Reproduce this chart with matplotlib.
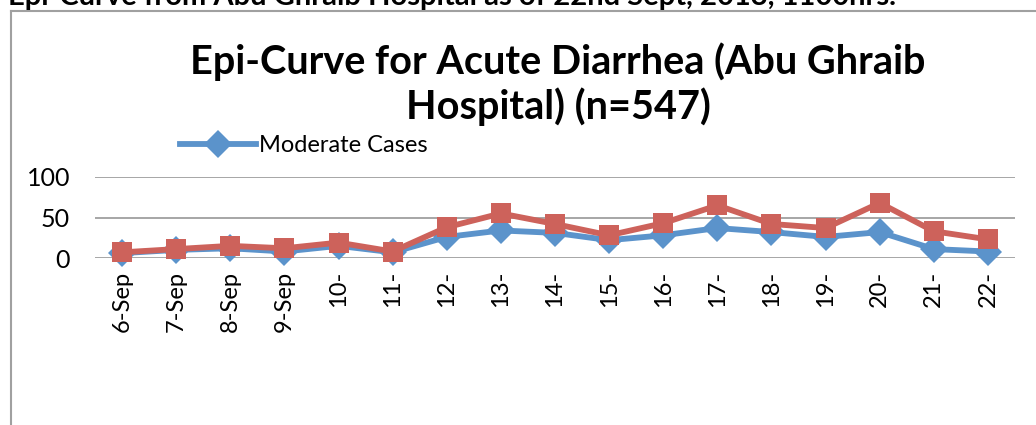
import numpy as np
from matplotlib import pyplot as plt
from matplotlib.lines import Line2D

plt.rcParams['font.family'] = ['Lato', 'DejaVu Sans']

# categories (x axis labels as shown, truncated in the original)
days = ["6-Sep", "7-Sep", "8-Sep", "9-Sep", "10-", "11-", "12-", "13-", "14-",
        "15-", "16-", "17-", "18-", "19-", "20-", "21-", "22-"]
# moderate cases (blue) and total cases (red)
moderate = [6, 10, 12, 8, 15, 7, 26, 34, 31, 22, 28, 37, 32, 26, 32, 11, 8]
total = [7, 11, 15, 12, 19, 8, 38, 55, 42, 28, 43, 65, 42, 37, 68, 33, 23]
yticks = [0, 50, 100]

fig = plt.figure(figsize=(10.36, 4.25), dpi=100)
W, H = 1036, 425

# plot area in pixels: left 95, right 1015, y=0 at 258, y=100 at 177
ax = fig.add_axes([95 / W, (H - 258) / H, 920 / W, 81 / H])
x = np.arange(len(days))

ax.plot(x, moderate, color="#5B93CB", lw=4.2, marker="D", ms=14,
        markeredgewidth=0, label="Moderate Cases", zorder=3)
ax.plot(x, total, color="#CD625B", lw=4.2, marker="s", ms=14.5,
        markeredgewidth=0, label="_nolegend_", zorder=4)

ax.set_xlim(-0.5, len(days) - 0.5)
ax.set_ylim(0, 100)
ax.set_yticks(yticks)
ax.set_xticks(x)
ax.set_xticklabels(days, rotation=90, fontsize=17)
ax.tick_params(axis="y", labelsize=18, length=0, pad=18)
ax.tick_params(axis="x", length=0, pad=9)
for s in ax.spines.values():
    s.set_visible(False)
ax.grid(axis="y", color="#A6A6A6", lw=1.4)
ax.set_axisbelow(True)
for ln in ax.lines:
    ln.set_clip_on(False)

leg = ax.legend(loc="lower left", bbox_to_anchor=(85 / 920, 1.26), frameon=False,
                fontsize=17, handlelength=3.2, handletextpad=0.15, borderpad=0,
                borderaxespad=0)

fig.text(558 / W, (H - 62) / H, "Epi-Curve for Acute Diarrhea (Abu Ghraib",
         ha="center", va="center", fontsize=28.5, fontweight="bold")
fig.text(558 / W, (H - 107) / H, "Hospital) (n=547)", ha="center", va="center",
         fontsize=28.5, fontweight="bold")

# caption above the chart frame, cut off by the top edge as in the original
fig.text(8 / W, 1.0 + 3 / H,
         "Epi-Curve from Abu Ghraib Hospital as of 22nd Sept, 2013, 1100hrs.",
         ha="left", va="center", fontsize=21, fontweight="bold")

# chart frame (left and top edges visible)
fig.add_artist(Line2D([11 / W, 11 / W], [0, (H - 11) / H], color="#A0A0A0", lw=1.5))
fig.add_artist(Line2D([11 / W, 1], [(H - 11) / H, (H - 11) / H], color="#A0A0A0", lw=1.5))

fig.savefig("out.png", dpi=100)
